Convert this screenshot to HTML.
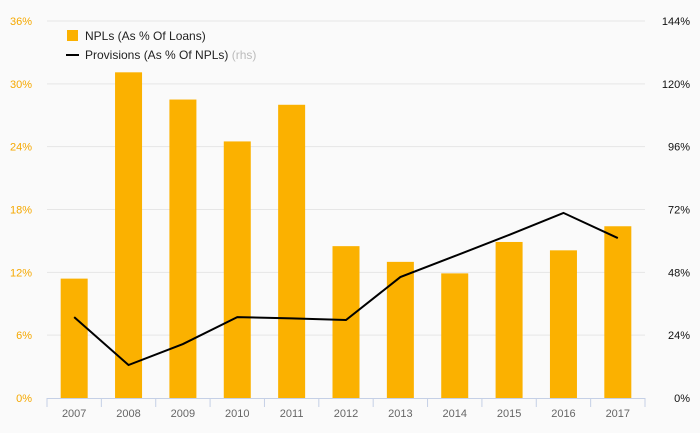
<!DOCTYPE html>
<html><head><meta charset="utf-8"><style>
body{margin:0;background:#fafafa;font-family:"Liberation Sans",sans-serif}
svg{display:block}
</style></head><body>
<svg id="c" width="700" height="433"></svg>
<script>
const categories=["2007","2008","2009","2010","2011","2012","2013","2014","2015","2016","2017"];
const nplValues=[11.4,31.1,28.5,24.5,28.0,14.5,13.0,11.9,14.9,14.1,16.4];
const provisionValues=[30.9,12.6,20.6,30.9,30.4,29.8,46.2,54.2,62.3,70.7,61.1];
const leftTicks=[0,6,12,18,24,30,36];
const rightTicks=[0,24,48,72,96,120,144];
const NS="http://www.w3.org/2000/svg";
const svg=document.getElementById('c');
const x0=47,x1=645,yTop=21,yBot=398;
const bw=(x1-x0)/categories.length;
const xc=i=>x0+bw*(i+0.5);
const yL=v=>yBot-(v/36)*(yBot-yTop);
const yR=v=>yBot-(v/144)*(yBot-yTop);
function mk(t,a,txt){const e=document.createElementNS(NS,t);for(const k in a)e.setAttribute(k,a[k]);if(txt!=null)e.textContent=txt;svg.appendChild(e);return e;}
leftTicks.forEach((t,i)=>{
 if(t>0){const g=mk('line',{x1:x0,x2:x1,y1:yL(t),y2:yL(t),stroke:'#e6e6e6','stroke-width':1});
 
 }
 const l=mk('text',{x:32,y:yL(t)+4,'text-anchor':'end','font-size':11,fill:'#f5a800'},t+'%');
 
 
});
rightTicks.forEach(t=>{
 const l=mk('text',{x:690,y:yR(t)+4,'text-anchor':'end','font-size':11,fill:'#111'},t+'%');
 
 
});
nplValues.forEach((v,i)=>{
 const r=mk('rect',{x:xc(i)-13.5,y:yL(v),width:27,height:yBot-yL(v),fill:'#fbb100'});
 
 
});
const ax=mk('line',{x1:x0,x2:x1,y1:yBot+0.5,y2:yBot+0.5,stroke:'#c5d0e6','stroke-width':1});


for(let i=0;i<=categories.length;i++){
 const tk=mk('line',{x1:x0+bw*i,x2:x0+bw*i,y1:yBot,y2:yBot+9,stroke:'#c5d0e6','stroke-width':1});
 
 
}
categories.forEach((c,i)=>{
 const l=mk('text',{x:xc(i),y:417,'text-anchor':'middle','font-size':11,fill:'#666'},c);
 
 
});
const pl=mk('polyline',{points:provisionValues.map((v,i)=>xc(i)+','+yR(v)).join(' '),fill:'none',stroke:'#000','stroke-width':2});


const r1=mk('rect',{x:67,y:30,width:11,height:11,fill:'#fbb100'});


const t1=mk('text',{x:85,y:40,'font-size':12,fill:'#222'},'NPLs (As % Of Loans)');


const l2=mk('line',{x1:66,x2:79,y1:55,y2:55,stroke:'#000','stroke-width':2});


const t2=mk('text',{x:85,y:59,'font-size':12,fill:'#222'},'Provisions (As % Of NPLs) ');


const ts=document.createElementNS(NS,'tspan');ts.setAttribute('fill','#bbb');ts.textContent='(rhs)';t2.appendChild(ts);
</script>
</body></html>
